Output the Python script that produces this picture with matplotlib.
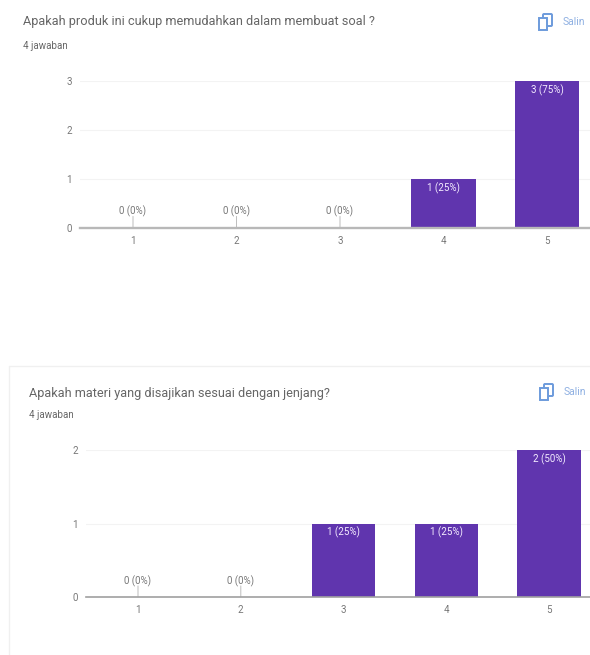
import matplotlib
matplotlib.use('Agg')
import matplotlib.pyplot as plt
from matplotlib.patches import Rectangle, FancyBboxPatch

W, H = 590, 655
PURPLE = '#6035ae'
BLUE = '#6d9bdc'

categories = ['1', '2', '3', '4', '5']

title_top = 'Apakah produk ini cukup memudahkan dalam membuat soal ?'
values_top = [0, 0, 0, 1, 3]
labels_top = ['0 (0%)', '0 (0%)', '0 (0%)', '1 (25%)', '3 (75%)']
yticks_top = [0, 1, 2, 3]

title_bottom = 'Apakah materi yang disajikan sesuai dengan jenjang?'
values_bottom = [0, 0, 1, 1, 2]
labels_bottom = ['0 (0%)', '0 (0%)', '1 (25%)', '1 (25%)', '2 (50%)']
yticks_bottom = [0, 1, 2]

answers = '4 jawaban'
copy_text = 'Salin'

plt.rcParams['font.family'] = ['Roboto', 'DejaVu Sans']


def draw_chart(left, bottom, top, x1, step, values, labels, yticks, base_color, base_width):
    # left/bottom/top are pixels from the top left of the picture
    ax = fig.add_axes([left / W, 1 - bottom / H, (W - left) / W, (bottom - top) / H])
    ax.set_xlim(1 + (left - x1) / step, 1 + (W - x1) / step)
    ax.set_ylim(0, yticks[-1])
    ax.patch.set_alpha(0)
    positions = list(range(1, len(values) + 1))
    ax.bar(positions, values, width=0.62, color=PURPLE, zorder=3)
    ax.set_xticks(positions, categories)
    ax.set_yticks(yticks)
    ax.tick_params(length=0, labelsize=7, labelcolor='#777777', pad=6)
    ax.grid(axis='y', color='#f3f3f3', lw=0.8)
    ax.set_axisbelow(True)
    for name in ['top', 'right', 'left']:
        ax.spines[name].set_visible(False)
    ax.spines['bottom'].set_color(base_color)
    ax.spines['bottom'].set_linewidth(base_width)
    ax.spines['bottom'].set_zorder(4)
    for pos, val, lab in zip(positions, values, labels):
        if val == 0:
            ax.annotate('', xy=(pos, 0), xytext=(0, 8), textcoords='offset points',
                        arrowprops=dict(arrowstyle='-', color='#bdbdbd', lw=0.7, shrinkA=0, shrinkB=0))
            ax.annotate(lab, (pos, 0), xytext=(0, 7.5), textcoords='offset points',
                        ha='center', va='bottom', fontsize=7, color='#777777')
        else:
            ax.annotate(lab, (pos, val), xytext=(0, -2.5), textcoords='offset points',
                        ha='center', va='top', fontsize=7, color='#f4ecff', zorder=5)


def draw_copy(x, y):
    # copy icon and the word next to it, in pixels
    over.add_patch(FancyBboxPatch((x + 4, y - 7), 9, 12, boxstyle='round,pad=0,rounding_size=1',
                                  fc='white', ec=BLUE, lw=1.4))
    over.add_patch(Rectangle((x, y - 3), 8, 12, fc='white', ec=BLUE, lw=1.4))
    over.text(x + 24, y + 1, copy_text, fontsize=7.5, color='#8fb0e2', va='center')


fig = plt.figure(figsize=(W / 100, H / 100), dpi=100)

over = fig.add_axes([0, 0, 1, 1])
over.set_xlim(0, W)
over.set_ylim(H, 0)
over.axis('off')

# frame of the lower card
over.plot([9, 9, W], [H, 366, 366], color='#f0f0f0', lw=1)

over.text(23, 22, title_top, fontsize=9.2, color='#666666', va='center')
over.text(23, 46, answers, fontsize=7, color='#666666', va='center')
over.text(29, 393, title_bottom, fontsize=9.2, color='#666666', va='center')
over.text(29, 415, answers, fontsize=7, color='#666666', va='center')
draw_copy(539, 21)
draw_copy(540, 391)

draw_chart(80, 227.5, 81, 133, 103.5, values_top, labels_top, yticks_top, '#b8b8b8', 1.7)
draw_chart(86, 597, 450, 138, 102.8, values_bottom, labels_bottom, yticks_bottom, '#a0a0a0', 1.2)

fig.savefig('out.png', dpi=100)
